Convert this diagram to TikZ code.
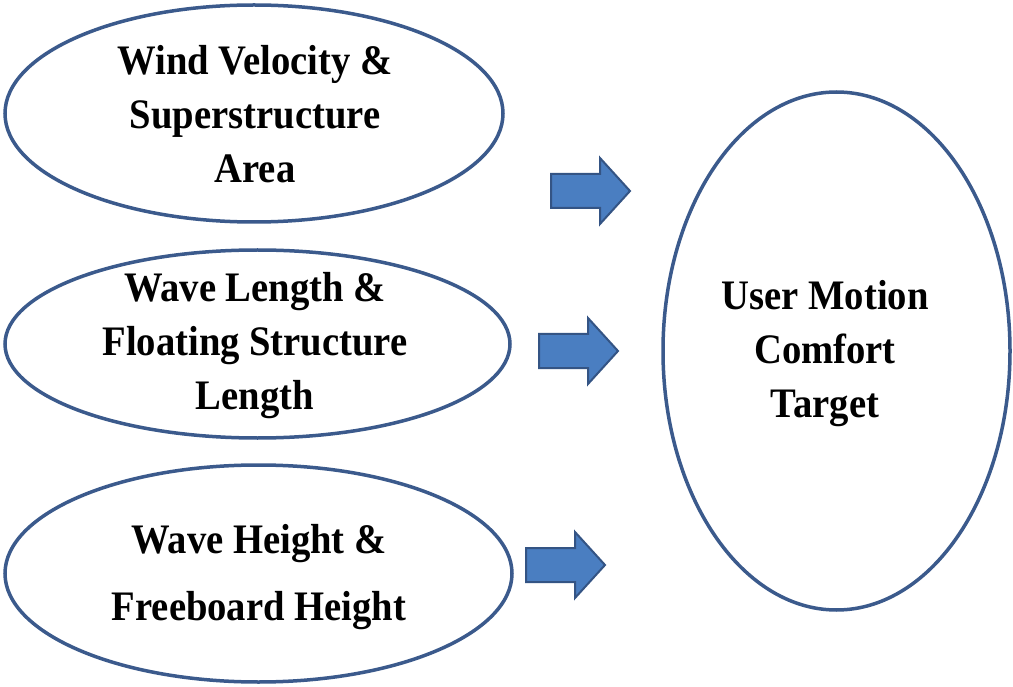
\documentclass[tikz,border=0pt]{standalone}
\usepackage{fontspec}
\setmainfont{Liberation Serif}[FakeStretch=0.92]
\usetikzlibrary{shapes.geometric}

\definecolor{rimblue}{RGB}{59,90,140}
\definecolor{arrowfill}{RGB}{74,126,193}
\definecolor{arrowline}{RGB}{52,84,132}

\tikzset{
  oval/.style={draw=rimblue, line width=3.5pt, ellipse, inner sep=0pt, fill=white},
  caption/.style={anchor=base, inner sep=0pt, font=\fontsize{42}{54}\selectfont\bfseries},
  blockarrow/.pic={
    \draw[fill=arrowfill, draw=arrowline, line width=2pt, line join=miter]
      (-79,-17) -- (-30,-17) -- (-30,-33) -- (0,0) -- (-30,33) -- (-30,17) -- (-79,17) -- cycle;
  }
}

\begin{document}
\begin{tikzpicture}[x=1pt, y=-1pt]
  \useasboundingbox[fill=white] (0,0) rectangle (1013,687);

  % input factors
  \node[oval, minimum width=498pt, minimum height=217pt] (wind) at (254,113.5) {};
  \node[oval, minimum width=505pt, minimum height=188pt] (wavelen) at (257.5,344) {};
  \node[oval, minimum width=507pt, minimum height=217pt] (waveht) at (258.5,573.5) {};

  % target
  \node[oval, minimum width=347pt, minimum height=518pt] (target) at (836.5,351) {};

  % labels
  \node[caption] (windtxt) at (255,75)
    {\begin{tabular}[t]{@{}c@{}}Wind Velocity \&\\Superstructure\\Area\end{tabular}};
  \node[caption] (wavelentxt) at (255,302)
    {\begin{tabular}[t]{@{}c@{}}Wave Length \&\\Floating Structure\\Length\end{tabular}};
  \node[caption] (wavehttxt) at (259,553)
    {\begin{tabular}[t]{@{}c@{}}Wave Height \&\\[13pt]Freeboard Height\end{tabular}};
  \node[caption] (targettxt) at (825,310)
    {\begin{tabular}[t]{@{}c@{}}User Motion\\Comfort\\Target\end{tabular}};

  % block arrows pointing at the target
  \coordinate (tip1) at (630,191);
  \coordinate (tip2) at (618,351);
  \coordinate (tip3) at (605,565);
  \pic at (tip1) {blockarrow};
  \pic at (tip2) {blockarrow};
  \pic at (tip3) {blockarrow};
\end{tikzpicture}
\end{document}
